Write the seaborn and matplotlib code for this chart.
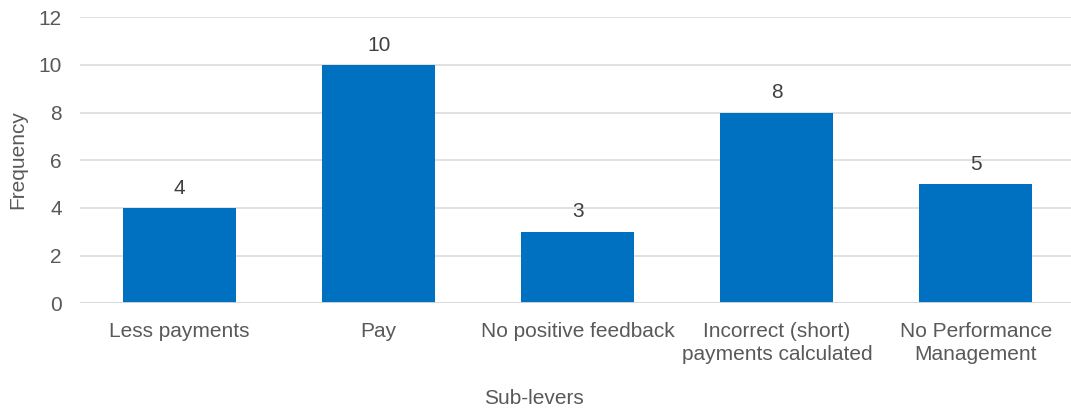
import matplotlib
matplotlib.use("Agg")
import matplotlib.pyplot as plt
import seaborn as sns
import pandas as pd

# Frequency of each sub-lever
categories = [
    "Less payments",
    "Pay",
    "No positive feedback",
    "Incorrect (short)\npayments calculated",
    "No Performance\nManagement",
]
frequency = [4, 10, 3, 8, 5]
y_ticks = [0, 2, 4, 6, 8, 10, 12]

df = pd.DataFrame({"Sub-levers": categories, "Frequency": frequency})

sns.set_theme(style="white")
plt.rcParams["font.family"] = ["Liberation Sans", "DejaVu Sans"]

text_color = "#595959"
bar_color = "#0070C0"
grid_color = "#D9D9D9"
fs = 15

fig = plt.figure(figsize=(10.71, 4.12), dpi=100)
ax = fig.add_axes([80 / 1071, (412 - 303.3) / 412, 991 / 1071, 286 / 412])

sns.barplot(data=df, x="Sub-levers", y="Frequency", color=bar_color,
            saturation=1, width=0.568, linewidth=0, ax=ax, zorder=3)

ax.set_ylim(0, 12)
ax.set_xlim(-0.5, -0.5 + 991 / 199.1)
ax.set_yticks(y_ticks)
ax.yaxis.grid(True, color=grid_color, linewidth=1.1, zorder=0)
ax.xaxis.grid(False)
for side in ["top", "right", "left", "bottom"]:
    ax.spines[side].set_visible(False)
ax.axhline(0, color=grid_color, linewidth=1.3, zorder=4)

ax.tick_params(axis="both", length=0, labelsize=fs, labelcolor=text_color)
ax.tick_params(axis="y", pad=13)
ax.tick_params(axis="x", pad=13.5)
for lbl in ax.get_xticklabels():
    lbl.set_linespacing(1.28)

# value labels above each bar
for container in ax.containers:
    ax.bar_label(container, labels=[str(v) for v in frequency], padding=7.5,
                 fontsize=fs, color="#404040")

ax.set_xlabel("Sub-levers", fontsize=fs, color=text_color)
ax.set_ylabel("Frequency", fontsize=fs, color=text_color)
ax.xaxis.set_label_coords((534 - 80) / 991, -(389 - 303.3) / 286)
ax.yaxis.set_label_coords(-(80 - 27) / 991, (303.3 - 160) / 286)

fig.savefig("out.png", dpi=100)
